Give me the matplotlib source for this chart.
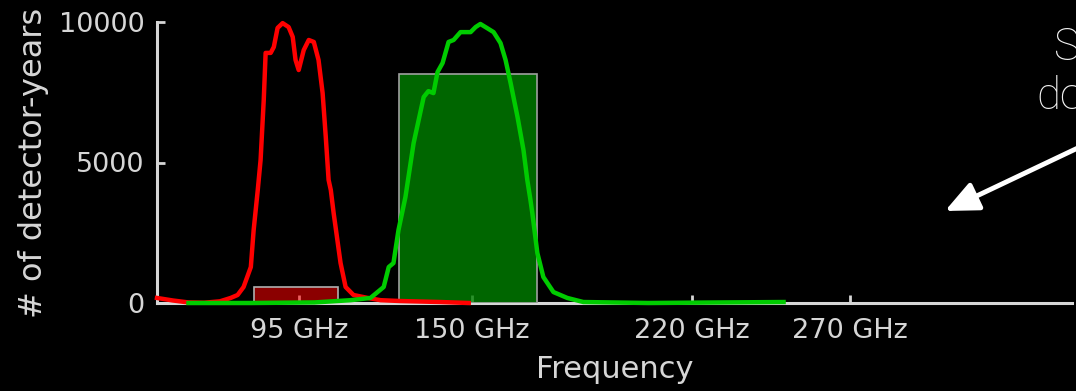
import matplotlib

matplotlib.use("Agg")
import matplotlib.pyplot as plt
from matplotlib.patches import FancyArrowPatch

# 95 GHz band: detector-years per frequency
freq_95 = [50, 55, 60, 65, 70, 73.4, 75.6, 77.5, 79.8, 80.7, 82.0, 82.9, 83.9,
           84.5, 86.1, 87.1, 88.3, 89.9, 91.8, 93.1, 94.0, 95.0, 96.6, 98.2,
           99.8, 101.3, 102.6, 103.6, 104.5, 105.2, 106.1, 108.3, 109.9,
           112.4, 116.9, 121, 127.4, 140, 149]
dy_95 = [180, 90, 20, 10, 60, 180, 285, 570, 1280, 2600, 4020, 5090, 7220,
         8900, 8900, 9110, 9790, 9960, 9820, 9470, 8650, 8290, 9000, 9360,
         9290, 8650, 7470, 5910, 4380, 4020, 3200, 1420, 570,
         285, 180, 100, 70, 35, 0]

# 150 GHz band
freq_150 = [60, 80, 100, 111.5, 117.8, 122, 123.6, 125.1, 126.7, 128.9, 131.5,
            134.7, 136.2, 137.8, 139.1, 140.7, 142.6, 144.2, 146.4, 149.6,
            151.2, 152.7, 154.3, 156.9, 159.1, 160.7, 162.3, 164.5, 166.4,
            167.6, 168.6, 169.2, 170.8, 172.7, 175.9, 180.3, 185.4, 206, 230,
            249]
dy_150 = [0, 0, 20, 100, 180, 570, 1280, 1420, 2600, 3770, 5690,
          7330, 7540, 7470, 8220, 8540, 9290, 9360, 9640, 9640,
          9820, 9930, 9820, 9640, 9250, 8650, 7830, 6620, 5440,
          4380, 3670, 3200, 1780, 925, 390, 180, 35, 0, 20,
          35]

# summary bars: (left edge, width, height)
bar_left = [80.7, 127.0]
bar_width = [26.7, 43.8]
bar_height = [560, 8150]

xticks = [95, 150, 220, 270]
xticklabels = ["95 GHz", "150 GHz", "220 GHz", "270 GHz"]
yticks = [0, 5000, 10000]

FG = "#d6d6d6"

fig = plt.figure(figsize=(10.76, 3.91), dpi=100, facecolor="black")
ax = fig.add_axes([157 / 1076, 1 - 303 / 391, 915 / 1076, 281 / 391])
ax.set_facecolor("black")

ax.bar(bar_left[0], bar_height[0], width=bar_width[0], align="edge",
       facecolor=(1, 0, 0, 0.55), edgecolor="#b0b0b0", linewidth=1.2, zorder=4)
ax.bar(bar_left[1], bar_height[1], width=bar_width[1], align="edge",
       facecolor=(0, 0.5, 0, 0.8), edgecolor="#a0a0a0", linewidth=1.2, zorder=4)

ax.plot(freq_95, dy_95, color="#ff0000", lw=3.2, zorder=5, clip_on=False,
        solid_joinstyle="round")
ax.plot(freq_150, dy_150, color="#00cc00", lw=3.2, zorder=6, clip_on=False,
        solid_joinstyle="round")

ax.set_xlim(50, 340.6)
ax.set_ylim(0, 10000)
for side in ("top", "right"):
    ax.spines[side].set_visible(False)
for side in ("left", "bottom"):
    ax.spines[side].set_color(FG)
    ax.spines[side].set_linewidth(2.2)
    ax.spines[side].set_zorder(1)

ax.set_xticks(xticks, xticklabels)
ax.set_yticks(yticks)
ax.tick_params(direction="in", length=6, width=2, color=FG, labelcolor=FG,
               labelsize=19.5)
ax.tick_params(axis="x", pad=11)
ax.tick_params(axis="y", pad=9)
ax.set_xlabel("Frequency", color=FG, fontsize=22, labelpad=8)
ax.set_ylabel("# of detector-years", color=FG, fontsize=23)
ax.yaxis.set_label_coords(-0.118, 0.5)

# slide annotation, cropped at the right edge
fig.text(1054 / 1076, 1 - 60 / 391, "S", color="#f2f2f2", fontsize=31.5,
         family="Roboto", fontweight="light", va="baseline")
fig.text(1036 / 1076, 1 - 109 / 391, "do", color="#f2f2f2", fontsize=31.5,
         family="Roboto", fontweight="light", va="baseline")
arrow = FancyArrowPatch((1082 / 1076, 1 - 146 / 391), (945 / 1076, 1 - 211 / 391),
                        transform=fig.transFigure,
                        arrowstyle="-|>,head_length=1.0,head_width=0.45",
                        mutation_scale=20, lw=3.5, color="white",
                        shrinkA=0, shrinkB=0)
fig.patches.append(arrow)

fig.savefig("out.png", dpi=100, facecolor="black")
